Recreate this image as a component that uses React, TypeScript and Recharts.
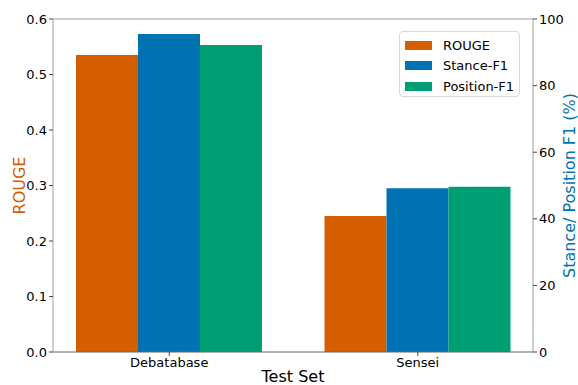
import React from 'react';
import { BarChart, Bar, XAxis, YAxis, ReferenceLine, Label } from 'recharts';

const testSets = ['Debatabase', 'Sensei'];
const rouge = [0.535, 0.245];
const stanceF1 = [95.5, 49.2];
const positionF1 = [92.2, 49.6];

const leftTicks = [0, 0.1, 0.2, 0.3, 0.4, 0.5, 0.6];
const rightTicks = [0, 20, 40, 60, 80, 100];

const ORANGE = '#D55E00';
const BLUE = '#0072B2';
const GREEN = '#009E73';
const FONT = 'DejaVu Sans, sans-serif';

const data = testSets.map((name, i) => ({
  name,
  rouge: rouge[i],
  stance: stanceF1[i],
  position: positionF1[i],
}));

const legendItems = [
  { label: 'ROUGE', color: ORANGE },
  { label: 'Stance-F1', color: BLUE },
  { label: 'Position-F1', color: GREEN },
];

const BoxLegend = () => (
  <div
    style={{
      position: 'absolute',
      left: 399,
      top: 31,
      width: 121,
      height: 66,
      boxSizing: 'border-box',
      border: '1px solid #d9d9d9',
      borderRadius: 4,
      background: 'rgba(255,255,255,0.8)',
      padding: '3px 0 0 5px',
      fontFamily: FONT,
      fontSize: 13,
      color: '#000',
    }}
  >
    {legendItems.map((it) => (
      <div key={it.label} style={{ display: 'flex', alignItems: 'center', height: 20.5 }}>
        <div style={{ width: 27, height: 9, background: it.color, marginRight: 11 }} />
        <span>{it.label}</span>
      </div>
    ))}
  </div>
);

const App: React.FC = () => {
  return (
    <div style={{ position: 'absolute', left: 0, top: 0, width: 578, height: 385, background: '#fff' }}>
      <BarChart
        width={578}
        height={385}
        data={data}
        margin={{ top: 19, right: 0, left: 0, bottom: 0 }}
        barCategoryGap={31}
        barGap={0}
      >
        <XAxis
          dataKey="name"
          height={33}
          padding={{ left: -8, right: -9 }}
          tick={{ fontSize: 13, fill: '#000', fontFamily: FONT }}
          tickLine={{ stroke: '#444' }}
          tickSize={4}
          axisLine={{ stroke: '#666' }}
        >
          <Label
            content={({ viewBox }: any) => (
              <text x={viewBox.x + viewBox.width / 2} y={382} textAnchor="middle" fontSize={16} fill="#000" fontFamily={FONT}>
                Test Set
              </text>
            )}
          />
        </XAxis>
        <YAxis
          yAxisId="left"
          orientation="left"
          width={53}
          domain={[0, 0.6]}
          ticks={leftTicks}
          tickFormatter={(v: number) => v.toFixed(1)}
          tick={{ fontSize: 13, fill: '#000', fontFamily: FONT }}
          tickLine={{ stroke: '#444' }}
          tickSize={4}
          axisLine={{ stroke: '#a0a0a0' }}
        >
          <Label
            content={({ viewBox }: any) => {
              const cy = viewBox.y + viewBox.height / 2;
              return (
                <text x={25} y={cy} transform={`rotate(-90, 25, ${cy})`} textAnchor="middle" fontSize={16} fill={ORANGE} fontFamily={FONT}>
                  ROUGE
                </text>
              );
            }}
          />
        </YAxis>
        <YAxis
          yAxisId="right"
          orientation="right"
          width={45}
          domain={[0, 100]}
          ticks={rightTicks}
          tick={{ fontSize: 13, fill: '#000', fontFamily: FONT }}
          tickLine={{ stroke: '#444' }}
          tickSize={4}
          axisLine={{ stroke: '#a0a0a0' }}
        >
          <Label
            content={({ viewBox }: any) => {
              const cy = viewBox.y + viewBox.height / 2;
              return (
                <text x={575} y={cy} transform={`rotate(-90, 575, ${cy})`} textAnchor="middle" fontSize={16} fill={BLUE} fontFamily={FONT}>
                  Stance/ Position F1 (%)
                </text>
              );
            }}
          />
        </YAxis>
        <ReferenceLine yAxisId="left" y={0.6} stroke="#a0a0a0" />
        <Bar yAxisId="left" dataKey="rouge" name="ROUGE" fill={ORANGE} isAnimationActive={false} />
        <Bar yAxisId="right" dataKey="stance" name="Stance-F1" fill={BLUE} isAnimationActive={false} />
        <Bar yAxisId="right" dataKey="position" name="Position-F1" fill={GREEN} isAnimationActive={false} />
      </BarChart>
      <BoxLegend />
    </div>
  );
};

export default App;
